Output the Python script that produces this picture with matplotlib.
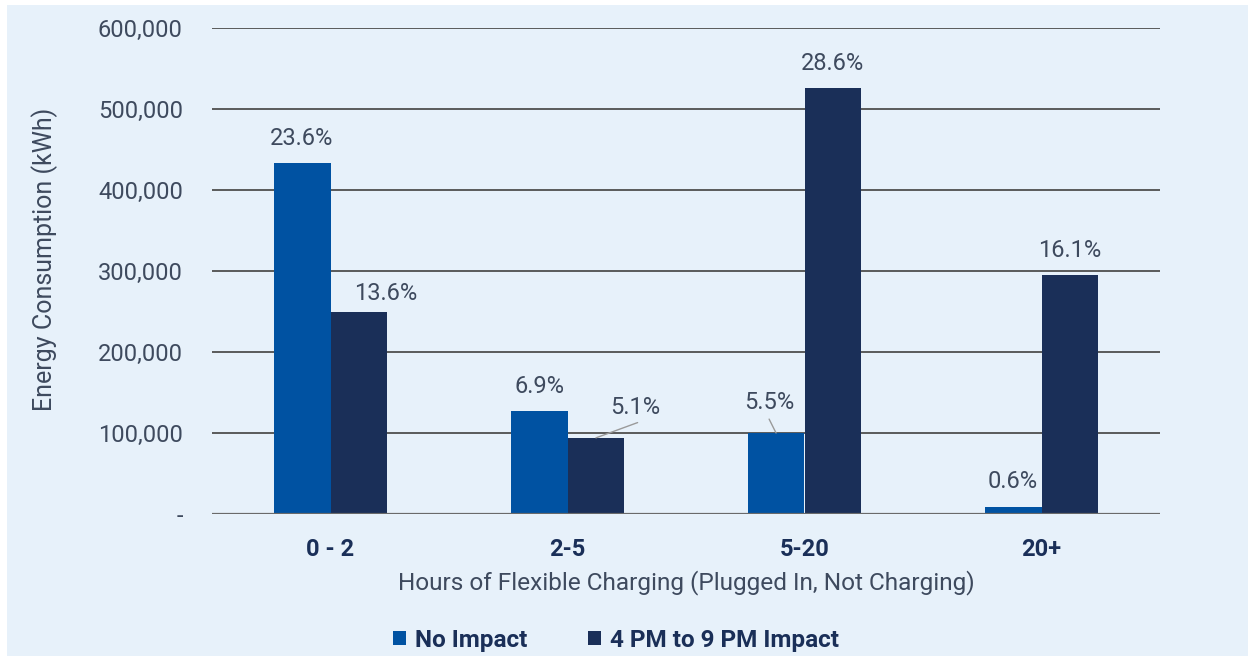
import matplotlib
matplotlib.use("Agg")
import matplotlib.pyplot as plt
import numpy as np
from matplotlib.ticker import FuncFormatter
from matplotlib.patches import Rectangle

categories = ["0 - 2", "2-5", "5-20", "20+"]
no_impact = [433000, 127000, 100000, 8500]
pm_impact = [249000, 94000, 526000, 295000]
no_impact_pct = ["23.6%", "6.9%", "5.5%", "0.6%"]
pm_impact_pct = ["13.6%", "5.1%", "28.6%", "16.1%"]
series_names = ["No Impact", "4 PM to 9 PM Impact"]
yticks = [0, 100000, 200000, 300000, 400000, 500000, 600000]

BG = "#E7F1FA"
C1 = "#0052A2"
C2 = "#1A2F58"
TXT = "#3E4A5E"
FS = 17

plt.rcParams['font.family'] = ['Roboto', 'DejaVu Sans']

W, H = 1250, 658
fig = plt.figure(figsize=(W/100, H/100), dpi=100, facecolor="white")
fig.patches.append(Rectangle((7/W, 2/H), (W-9)/W, (H-7)/H, transform=fig.transFigure,
                             facecolor=BG, edgecolor='none', zorder=-10))
ax = fig.add_axes([212/W, 1-514/H, (1160-212)/W, (514-28)/H])
ax.set_zorder(1)
ax.patch.set_alpha(0)

x = np.arange(len(categories))
w = 0.24
b1 = ax.bar(x - w/2, no_impact, w, color=C1, label=series_names[0], zorder=3)
b2 = ax.bar(x + w/2, pm_impact, w, color=C2, label=series_names[1], zorder=3)

ax.set_xlim(-0.5, 3.5)
ax.set_ylim(0, 600000)
ax.set_yticks(yticks)
ax.yaxis.set_major_formatter(FuncFormatter(lambda v, p: "-" if v == 0 else f"{int(v):,}"))
ax.grid(axis='y', color="#5A5A5A", linewidth=1.4, zorder=0)
ax.tick_params(axis='both', length=0)
ax.tick_params(axis='y', labelsize=FS, labelcolor=TXT, pad=21)
for s in ax.spines.values():
    s.set_visible(False)
ax.axhline(0, color="#6A6A6A", linewidth=1.6, zorder=4)

ax.set_xticks(x)
ax.set_xticklabels(categories, fontsize=FS, fontweight='bold', color=C2)
ax.tick_params(axis='x', pad=17)

ax.set_ylabel("Energy Consumption (kWh)", fontsize=18, color=TXT)
ax.yaxis.set_label_coords(-(212-58)/948, (514-259)/486)
ax.set_xlabel("Hours of Flexible Charging (Plugged In, Not Charging)", fontsize=17.6, color=TXT)
ax.xaxis.set_label_coords(0.5, -(570-514)/486)

# label offsets in points (dx, dy) from bar top center to text baseline
off1 = [(0, 13), (0, 13), (-5, 17), (0, 14)]
off2 = [(19, 9), (28, 17), (0, 13), (0, 13)]
for i in range(len(categories)):
    ax.annotate(no_impact_pct[i], (x[i] - w/2, no_impact[i]), xytext=off1[i],
                textcoords='offset points', ha='center', va='baseline',
                fontsize=FS, color=TXT, zorder=6)
for i in range(len(categories)):
    ax.annotate(pm_impact_pct[i], (x[i] + w/2, pm_impact[i]), xytext=off2[i],
                textcoords='offset points', ha='center', va='baseline',
                fontsize=FS, color=TXT, zorder=6)
# leader lines
ax.annotate("", (x[1] + w/2, pm_impact[1]), xytext=(30, 11), textcoords='offset points',
            arrowprops=dict(arrowstyle='-', color='#9A9A9A', lw=1, shrinkA=0, shrinkB=0), zorder=5)
ax.annotate("", (x[2] - w/2, no_impact[2]), xytext=(-5, 10), textcoords='offset points',
            arrowprops=dict(arrowstyle='-', color='#9A9A9A', lw=1, shrinkA=0, shrinkB=0), zorder=5)

leg = fig.legend(handles=[b1, b2], loc='center', bbox_to_anchor=(616/W, 1-640/H),
                 ncol=2, frameon=False, handlelength=0.55, handleheight=0.55,
                 handletextpad=0.35, columnspacing=2.5,
                 prop={'size': 17.5, 'weight': 'bold'})
for t in leg.get_texts():
    t.set_color(C2)

fig.savefig("out.png", dpi=100, facecolor="white")
